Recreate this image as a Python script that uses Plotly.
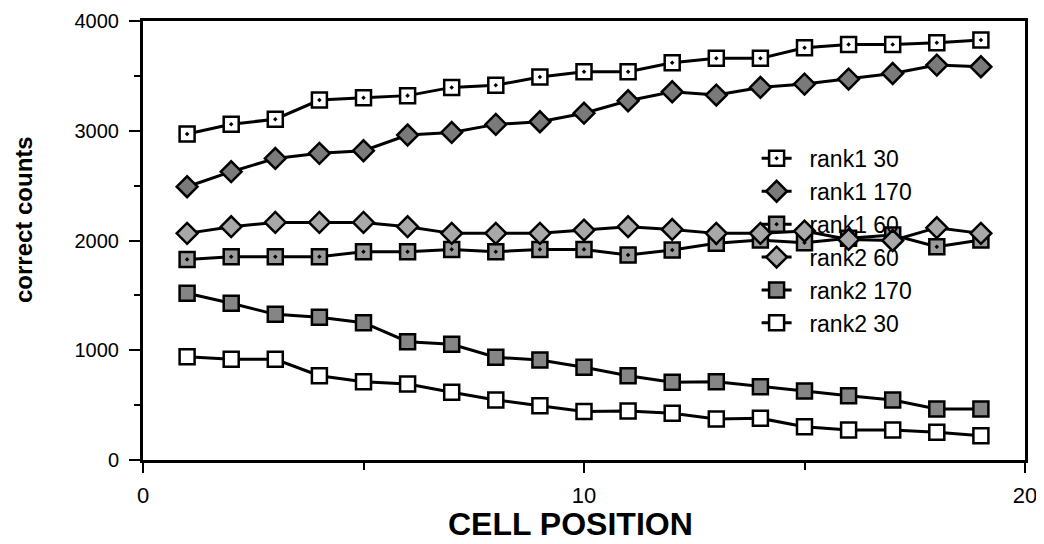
import plotly.graph_objects as go

positions = list(range(1, 20))
rank1_30 = [2970, 3060, 3105, 3280, 3300, 3320, 3395, 3415, 3490, 3537, 3537, 3620, 3660, 3660, 3756, 3786, 3786, 3802, 3826]
rank1_170 = [2490, 2627, 2748, 2794, 2818, 2961, 2985, 3058, 3082, 3160, 3273, 3355, 3325, 3395, 3425, 3471, 3522, 3598, 3583]
rank1_60 = [1828, 1852, 1852, 1852, 1898, 1898, 1919, 1898, 1919, 1919, 1868, 1913, 1974, 2004, 1980, 2020, 2050, 1943, 2004]
rank2_60 = [2065, 2126, 2165, 2165, 2165, 2126, 2065, 2065, 2065, 2095, 2126, 2101, 2065, 2065, 2086, 2010, 2000, 2117, 2065]
rank2_170 = [1519, 1428, 1327, 1300, 1251, 1078, 1054, 936, 911, 845, 768, 708, 713, 668, 629, 586, 547, 465, 465]
rank2_30 = [941, 917, 917, 768, 713, 692, 617, 547, 495, 443, 446, 425, 373, 380, 303, 273, 273, 252, 221]

series_names = ["rank1 30", "rank1 170", "rank1 60", "rank2 60", "rank2 170", "rank2 30"]
series_values = [rank1_30, rank1_170, rank1_60, rank2_60, rank2_170, rank2_30]
styles = [
    dict(symbol="square-dot", color="white", size=15),
    dict(symbol="diamond", color="#7a7a7a", size=16),
    dict(symbol="square-dot", color="#9a9a9a", size=15),
    dict(symbol="diamond", color="#a8a8a8", size=16),
    dict(symbol="square", color="#858585", size=15),
    dict(symbol="square", color="white", size=15),
]

fig = go.Figure()
for name, vals, st in zip(series_names, series_values, styles):
    fig.add_trace(go.Scatter(
        x=positions, y=vals, name="\u00a0\u00a0" + name, mode="lines+markers",
        line=dict(color="black", width=3),
        marker=dict(symbol=st["symbol"], size=st["size"], color=st["color"],
                    line=dict(color="black", width=2.5)),
    ))

font_family = "Liberation Sans, Arial, Helvetica, sans-serif"

# The page body has an 8px margin, so the figure is sized/offset to compensate.
fig.update_layout(
    width=1036, height=536,
    margin=dict(l=135, r=19, t=13, b=84),
    paper_bgcolor="white", plot_bgcolor="white",
    font=dict(family=font_family, color="black", size=20),
    showlegend=True,
    legend=dict(x=0.6957, y=0.736, xanchor="left", yanchor="top",
                bgcolor="rgba(0,0,0,0)", borderwidth=0,
                font=dict(size=23, family=font_family),
                itemwidth=30, tracegroupgap=0),
    xaxis=dict(
        range=[0, 20], tickvals=[0, 10, 20], ticks="outside", ticklen=10, tickwidth=2,
        tickcolor="black", showline=True, linecolor="black", linewidth=3, mirror=True,
        showgrid=False, zeroline=False, ticklabelstandoff=4, automargin=False,
        minor=dict(tickvals=[5, 15], ticks="outside", ticklen=7, tickwidth=2, tickcolor="black"),
        tickfont=dict(size=22),
    ),
    yaxis=dict(
        range=[0, 4000], tickvals=[0, 1000, 2000, 3000, 4000], ticks="outside", ticklen=11,
        tickwidth=2, tickcolor="black", showline=True, linecolor="black", linewidth=3,
        mirror=True, showgrid=False, zeroline=False, ticklabelstandoff=6, automargin=False,
        minor=dict(tickvals=[500, 1500, 2500, 3500], ticks="outside", ticklen=6, tickwidth=2,
                   tickcolor="black"),
        tickfont=dict(size=20),
    ),
    annotations=[
        dict(text="CELL POSITION", xref="paper", yref="paper", x=0.485, y=-0.1447,
             xanchor="center", yanchor="middle", showarrow=False,
             font=dict(size=32, weight="bold", family=font_family)),
        dict(text="correct counts", xref="paper", yref="paper", x=-0.1349, y=0.5467,
             xanchor="center", yanchor="middle", showarrow=False, textangle=-90,
             font=dict(size=24, weight="bold", family=font_family)),
    ],
)

fig.write_html("out.html")
